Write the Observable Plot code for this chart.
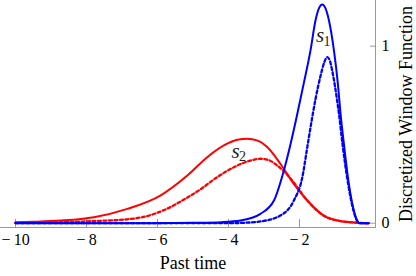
<!DOCTYPE html>
<html>
<head>
<meta charset="utf-8">
<script src="https://cdn.jsdelivr.net/npm/d3@7"></script>
<script src="https://cdn.jsdelivr.net/npm/@observablehq/plot@0.6"></script>
<style>
  html, body { margin: 0; padding: 0; background: #fff; }
  svg text { font-family: 'Liberation Serif', 'Times New Roman', serif; }
</style>
</head>
<body>
<div id="chart"></div>
<script>
const xTicks = [-10, -8, -6, -4, -2];
const yTicks = [0, 1];

const blueSolidX = [-10, -6, -5, -4.2, -3.66, -3.1, -2.72, -2.44, -2.25, -2.07, -1.88, -1.69, -1.55, -1.45, -1.36, -1.27, -1.17, -1.03, -0.92, -0.845, -0.75, -0.61, -0.47, -0.36, -0.3, -0.05];
const blueSolidY = [0, 0, 0.002, 0.006, 0.015, 0.053, 0.128, 0.298, 0.449, 0.61, 0.79, 0.976, 1.145, 1.215, 1.236, 1.215, 1.145, 0.976, 0.79, 0.62, 0.449, 0.222, 0.072, 0.01, 0, 0];

const blueDashX = [-10, -4, -3.5, -3.1, -2.54, -2.16, -1.92, -1.78, -1.64, -1.55, -1.41, -1.3, -1.22, -1.14, -1.08, -0.94, -0.89, -0.79, -0.63, -0.48, -0.37, -0.3, -0.05];
const blueDashY = [0, 0, 0.003, 0.01, 0.043, 0.128, 0.26, 0.43, 0.6, 0.7, 0.83, 0.91, 0.938, 0.915, 0.863, 0.693, 0.62, 0.449, 0.222, 0.072, 0.01, 0, 0];

const redSolidX = [-10, -9.5, -8.73, -7.79, -6.85, -5.92, -5.16, -4.6, -4.04, -3.75, -3.47, -3.2, -2.91, -2.54, -2.16, -1.78, -1.32, -0.85, -0.4, -0.05];
const redSolidY = [0.005, 0.008, 0.015, 0.034, 0.081, 0.156, 0.269, 0.373, 0.449, 0.472, 0.477, 0.468, 0.43, 0.336, 0.222, 0.128, 0.043, 0.012, 0.003, 0];

const redDashX = [-10, -8.73, -7.8, -6.85, -6.3, -5.75, -5.2, -4.8, -4.32, -3.85, -3.38, -3.1, -2.85, -2.63, -2.4, -2.2, -1.78, -1.32, -0.85, -0.4, -0.05];
const redDashY = [0.002, 0.006, 0.012, 0.022, 0.04, 0.08, 0.14, 0.19, 0.26, 0.316, 0.354, 0.364, 0.355, 0.326, 0.285, 0.24, 0.128, 0.043, 0.012, 0.003, 0];

const labelX = [-1.42, -3.80];
const labelY = [1.023, 0.369];
const labelSub = ["1", "2"];

const xLabel = "Past time";
const yLabel = "Discretized Window Function";

const pts = (xs, ys) => xs.map((x, i) => ({x, y: ys[i]}));
const labels = labelX.map((x, i) => ({x, y: labelY[i], sub: labelSub[i]}));

const W = 416, H = 276, mL = 0, mR = 41, mT = 0, mB = 49;
const plotW = W - mL - mR, plotH = H - mT - mB;
const axisGray = "#999";
const serif = "Liberation Serif";

const chart = Plot.plot({
  width: W,
  height: H,
  marginLeft: mL,
  marginRight: mR,
  marginTop: mT,
  marginBottom: mB,
  style: {fontFamily: serif, fontSize: "16px", background: "#fff", color: "#000"},
  x: {domain: [-10.423, 0.141]},
  y: {domain: [-0.0243, 1.258]},
  marks: [
    Plot.frame({anchor: "bottom", stroke: axisGray}),
    Plot.frame({anchor: "right", stroke: axisGray}),
    Plot.tickX(xTicks, {x: d => d, stroke: axisGray, insetTop: plotH - 8}),
    Plot.tickY(yTicks, {y: d => d, stroke: axisGray, insetLeft: plotW - 5}),
    Plot.axisX({ticks: xTicks, tickSize: 0, tickPadding: 6, fontSize: 16, fontFamily: serif,
      tickFormat: d => (d < 0 ? "\u2212\u2009" : "") + Math.abs(d), label: null}),
    Plot.axisY({anchor: "right", ticks: yTicks, tickSize: 0, tickPadding: 6, fontSize: 16, fontFamily: serif,
      tickFormat: d => String(d), label: null}),
    Plot.text([xLabel], {text: d => d, frameAnchor: "bottom", textAnchor: "middle", dx: 5, dy: 41, lineAnchor: "bottom", fontSize: 18, fontFamily: serif}),
    Plot.text([yLabel], {text: d => d, frameAnchor: "right", textAnchor: "middle", rotate: -90, dx: 31, fontSize: 18, fontFamily: serif}),
    Plot.line(pts(redSolidX, redSolidY), {x: "x", y: "y", stroke: "#ff0000", strokeWidth: 2, curve: "monotone-x"}),
    Plot.line(pts(redDashX, redDashY), {x: "x", y: "y", stroke: "#ff0000", strokeWidth: 2.3, strokeDasharray: "3,2.5", curve: "monotone-x"}),
    Plot.line(pts(blueSolidX, blueSolidY), {x: "x", y: "y", stroke: "#0000ff", strokeWidth: 2, curve: "monotone-x"}),
    Plot.line(pts(blueDashX, blueDashY), {x: "x", y: "y", stroke: "#0000ff", strokeWidth: 2.3, strokeDasharray: "3,2.5", curve: "monotone-x"}),
    Plot.text(labels, {x: "x", y: "y", text: () => "s", fontStyle: "italic", fontSize: 21, lineAnchor: "bottom", fill: "#222", fontFamily: serif}),
    Plot.text(labels, {x: "x", y: "y", text: "sub", fontSize: 14, lineAnchor: "bottom", dx: 7, dy: 3.5, fill: "#222", fontFamily: serif})
  ]
});
document.getElementById("chart").appendChild(chart);
</script>
</body>
</html>
